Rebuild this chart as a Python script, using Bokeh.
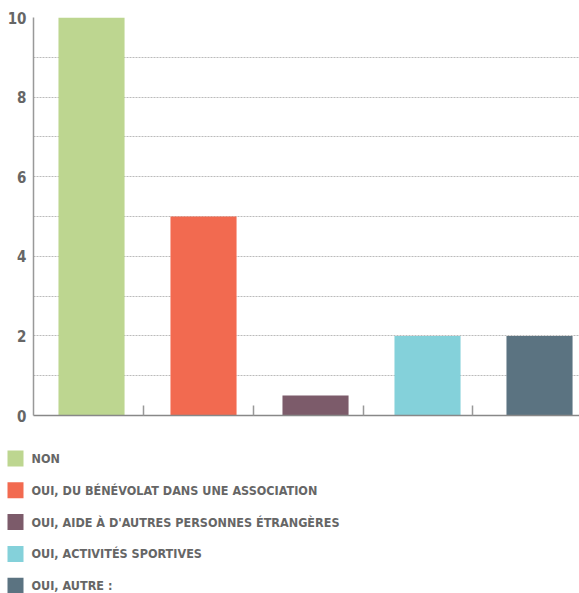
from bokeh.plotting import figure
from bokeh.models import ColumnDataSource, FixedTicker, Range1d
from bokeh.layouts import column
from bokeh.core.properties import value
from bokeh.embed import file_html
from bokeh.resources import INLINE

categories = ["NON", "OUI, DU BÉNÉVOLAT DANS UNE ASSOCIATION",
              "OUI, AIDE À D'AUTRES PERSONNES ÉTRANGÈRES",
              "OUI, ACTIVITÉS SPORTIVES", "OUI, AUTRE :"]
values = [10, 5, 0.5, 2, 2]
colors = ["#BDD690", "#F26A50", "#7C5B6A", "#84D1DA", "#5B7381"]
y_ticks = [0, 2, 4, 6, 8, 10]

FONT = "DejaVu Sans Condensed"

p = figure(frame_width=546, frame_height=398, output_backend="svg", toolbar_location=None,
           x_range=Range1d(-0.518, 4.357), y_range=Range1d(0, 10),
           min_border_left=33, min_border_top=17, min_border_right=0,
           min_border_bottom=12, frame_align=False)
p.outline_line_color = None
p.xgrid.grid_line_color = None
p.ygrid.ticker = FixedTicker(ticks=list(range(0, 11)))
p.ygrid.grid_line_color = "#bbbbbb"
p.ygrid.grid_line_dash = "2 1"
p.ygrid.grid_line_width = 1

xs = list(range(len(categories)))
src = ColumnDataSource(dict(x=xs, top=values, color=colors, label=categories))
p.vbar(x="x", top="top", width=0.59, bottom=0, source=src,
       fill_color="color", line_color=None)

# y axis
p.yaxis.ticker = FixedTicker(ticks=y_ticks)
p.yaxis.axis_line_color = "#999999"
p.yaxis.axis_line_width = 1.5
p.yaxis.major_tick_out = 0
p.yaxis.major_tick_in = 0
p.yaxis.minor_tick_line_color = None
p.yaxis.major_label_text_font = FONT
p.yaxis.major_label_text_font_style = "bold"
p.yaxis.major_label_text_font_size = "15px"
p.yaxis.major_label_text_color = "#666666"
p.yaxis.major_label_standoff = 7

# x axis
p.xaxis.ticker = FixedTicker(ticks=[0.464, 1.446, 2.43, 3.40])
p.xaxis.axis_line_color = "#888888"
p.xaxis.axis_line_width = 1.5
p.xaxis.major_tick_in = 10
p.xaxis.major_tick_out = 0
p.xaxis.major_tick_line_color = "#999999"
p.xaxis.major_tick_line_width = 1.5
p.xaxis.minor_tick_line_color = None
p.xaxis.major_label_text_font_size = "0px"
p.xaxis.major_label_text_color = None
p.xaxis.major_label_standoff = 0

# legend drawn as a separate figure below the chart
leg = figure(frame_width=579, frame_height=166, output_backend="svg", toolbar_location=None,
             x_range=Range1d(0, 579), y_range=Range1d(4.245, -0.975),
             min_border=0, frame_align=False)
leg.axis.visible = False
leg.grid.visible = False
leg.outline_line_color = None
lsrc = ColumnDataSource(dict(y=xs, color=colors, label=categories))
leg.rect(x=15, y="y", width=16, height=16, width_units="screen", height_units="screen",
         fill_color="color", line_color=None, source=lsrc)
leg.text(x=31, y="y", text="label", source=lsrc, text_font=value(FONT),
         text_font_style="bold", text_font_size="12.5px", text_color="#666666",
         text_baseline="middle", text_align="left")

layout = column(p, leg, spacing=0)
open("out.html", "w").write(file_html(layout, INLINE))
